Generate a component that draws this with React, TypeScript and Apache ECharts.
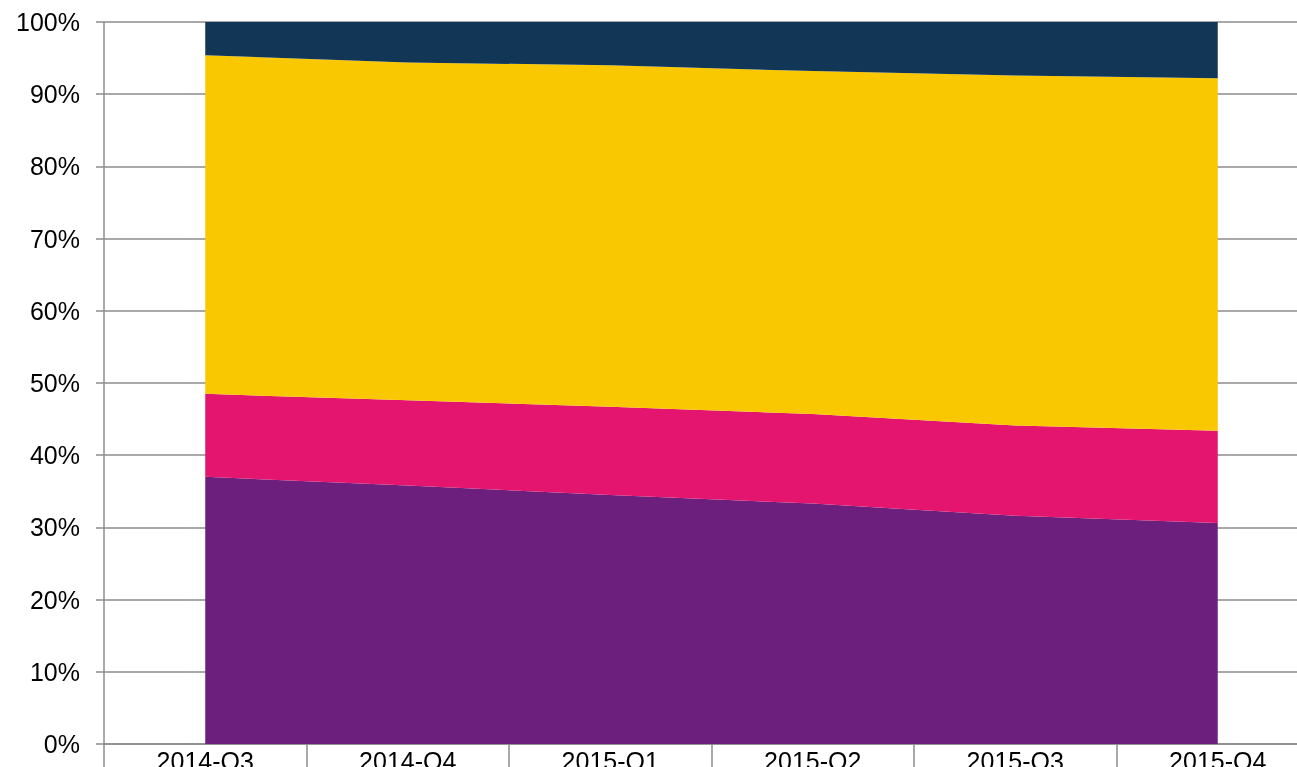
import React, { useEffect, useRef } from "react";
import * as echarts from "echarts";

const categories = ["2014-Q3", "2014-Q4", "2015-Q1", "2015-Q2", "2015-Q3", "2015-Q4"];
const purpleValues = [37.0, 35.8, 34.5, 33.3, 31.6, 30.6];
const pinkValues = [11.5, 11.8, 12.2, 12.4, 12.5, 12.8];
const yellowValues = [46.9, 46.8, 47.3, 47.5, 48.5, 48.8];
const navyValues = [4.6, 5.6, 6.0, 6.8, 7.4, 7.8];

const seriesDefs = [
  { name: "Series 1", data: purpleValues, color: "#6D1F7E" },
  { name: "Series 2", data: pinkValues, color: "#E3156E" },
  { name: "Series 3", data: yellowValues, color: "#FAC800" },
  { name: "Series 4", data: navyValues, color: "#113656" },
];

export default function App() {
  const ref = useRef<HTMLDivElement>(null);
  useEffect(() => {
    if (!ref.current) return;
    const chart = echarts.init(ref.current, null, { renderer: "svg" });
    const font = "'Liberation Sans', Arial, Helvetica, sans-serif";
    chart.setOption({
      animation: false,
      grid: {
        left: 104,
        top: 22,
        width: 1215,
        height: 722,
        containLabel: false,
        outerBoundsMode: "none",
      },
      xAxis: {
        type: "category",
        data: categories,
        boundaryGap: true,
        axisLine: { show: true, lineStyle: { color: "#8c8c8c", width: 1.5 } },
        axisTick: { show: true, length: 30, lineStyle: { color: "#8c8c8c", width: 1.5 } },
        axisLabel: { color: "#000", fontSize: 25, fontFamily: font, margin: 4 },
        splitLine: { show: false },
      },
      yAxis: {
        type: "value",
        min: 0,
        max: 100,
        interval: 10,
        axisLine: { show: true, lineStyle: { color: "#8c8c8c", width: 1.5 } },
        axisTick: { show: true, length: 8, lineStyle: { color: "#8c8c8c", width: 1.5 } },
        axisLabel: { color: "#000", fontSize: 25, fontFamily: font, margin: 24, formatter: "{value}%" },
        splitLine: { show: true, lineStyle: { color: "#8c8c8c", width: 1.5 } },
      },
      series: seriesDefs.map((s) => ({
        name: s.name,
        type: "line",
        stack: "total",
        data: s.data,
        symbol: "none",
        lineStyle: { width: 0 },
        areaStyle: { color: s.color, opacity: 1 },
        itemStyle: { color: s.color },
      })),
    });
    return () => chart.dispose();
  }, []);
  return (
    <div
      ref={ref}
      style={{ position: "fixed", left: 0, top: 0, width: 1297, height: 767 }}
    />
  );
}
